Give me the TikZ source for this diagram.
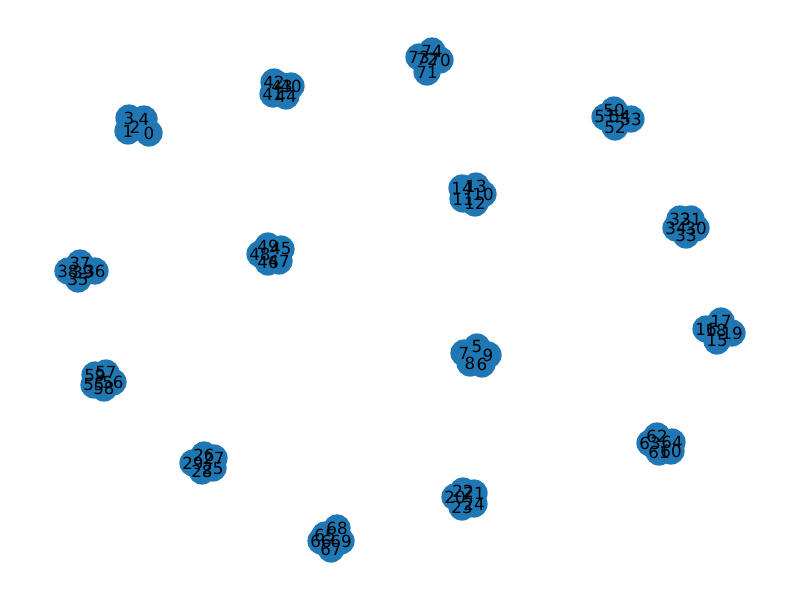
\documentclass[tikz,border=0pt]{standalone}
\usepackage{fontspec}
\setmainfont{DejaVu Sans}
\usetikzlibrary{positioning}
\definecolor{tabblue}{HTML}{1F77B4}
\tikzset{
  vertex/.style={circle, fill=tabblue, minimum size=27.2pt, inner sep=0pt},
  vlabel/.style={inner sep=0pt, font=\fontsize{16.7}{20}\selectfont},
}
\begin{document}
\begin{tikzpicture}[x=1pt, y=-1pt]
    \useasboundingbox (0,0) rectangle (800,600);
    % nodes first, labels on top
    \foreach \id/\px/\py in {
        3/129/118, 4/144/119, 1/128/131, 2/135/127, 0/149/133,
        42/274/82, 40/291/86, 43/282/86, 41/273/94, 44/286/96,
        74/432/51, 73/419/57, 72/427/59, 70/440/60, 71/427/72,
        50/614/110, 51/605/117, 54/620/117, 53/631/119, 52/615/127,
        14/462/188, 13/476/186, 11/463/199, 12/475/203, 10/483/194,
        32/680/219, 31/691/219, 34/676/228, 33/686/235, 30/696/228,
        37/80/263, 38/68/271, 39/83/272, 36/95/271, 35/78/279,
        49/268/246, 45/281/249, 48/260/254, 46/268/262, 47/279/261,
        17/721/321, 16/706/329, 18/716/330, 19/732/333, 15/717/341,
        5/477/347, 7/464/353, 9/488/355, 8/470/363, 6/482/364,
        59/95/375, 57/106/373, 56/113/382, 55/94/385, 58/104/388,
        62/657/436, 63/650/443, 64/672/442, 61/659/452, 60/671/451,
        26/204/455, 27/214/458, 29/193/463, 25/213/468, 28/202/471,
        22/463/491, 21/474/493, 20/455/497, 23/462/507, 24/474/504,
        68/337/528, 65/325/535, 66/321/541, 69/341/541, 67/331/549}
      \node[vertex] (n\id) at (\px,\py) {};
    \foreach \id in {0,...,74}
      \node[vlabel] (l\id) at (n\id) {\id};
\end{tikzpicture}
\end{document}
